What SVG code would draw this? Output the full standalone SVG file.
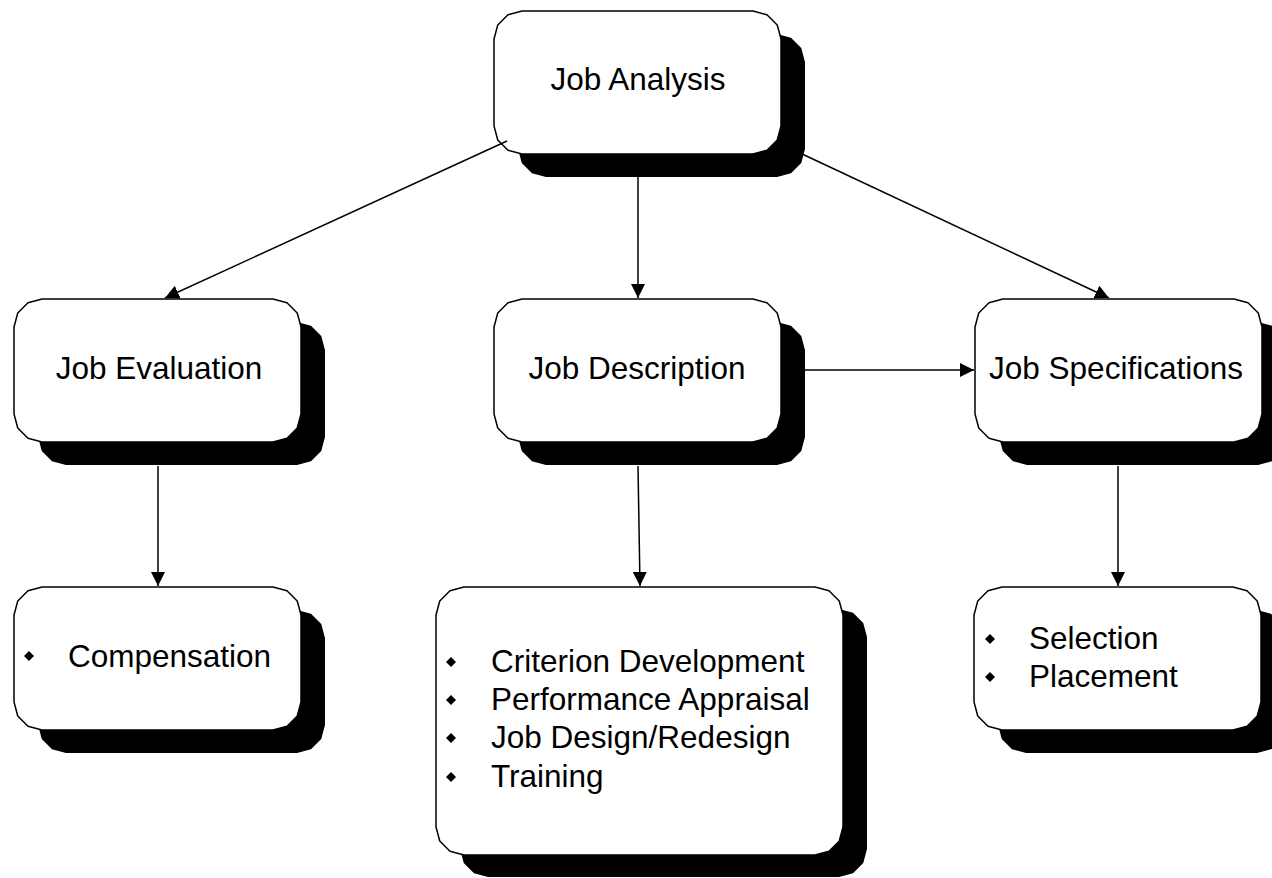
<svg xmlns="http://www.w3.org/2000/svg" xmlns:xlink="http://www.w3.org/1999/xlink" width="1272" height="878" viewBox="0 0 1272 878">
<style>
.shadow{fill:#000;stroke:none}
.box{fill:#fff;stroke:#000;stroke-width:1.5;stroke-linejoin:round}
.lbl{font-family:"Liberation Sans",Arial,sans-serif;font-size:31.5px;fill:#000}
.mid{text-anchor:middle}
.conn{stroke:#000;stroke-width:1.5;fill:none;marker-end:url(#ah)}
.bul{fill:#000}
</style>
<defs>
<path id="bx" d="M0,28 L3.75,14 L14,3.75 L28,0 L259,0 L273,3.75 L283.25,14 L287,28 L287,115 L283.25,129 L273,139.25 L259,143 L28,143 L14,139.25 L3.75,129 L0,115 Z"/>
<path id="bxl" d="M0,28 L3.75,14 L14,3.75 L28,0 L379,0 L393,3.75 L403.25,14 L407,28 L407,240 L403.25,254 L393,264.25 L379,268 L28,268 L14,264.25 L3.75,254 L0,240 Z"/>
<path id="dia" d="M0,-5 L5,0 L0,5 L-5,0 Z"/>
<marker id="ah" markerUnits="userSpaceOnUse" markerWidth="14" markerHeight="14" refX="14" refY="7" orient="auto">
<path d="M0,0 L14,7 L0,14 Z" fill="#000"/>
</marker>
</defs>
<rect width="1272" height="878" fill="#fff"/>

<g id="node-job-analysis">
<use xlink:href="#bx" href="#bx" class="shadow" transform="translate(518,34)"/>
<use xlink:href="#bx" href="#bx" class="box" transform="translate(494,11)"/>
<text class="lbl mid" x="638" y="90">Job Analysis</text>
</g>

<g id="node-job-evaluation">
<use xlink:href="#bx" href="#bx" class="shadow" transform="translate(38,322)"/>
<use xlink:href="#bx" href="#bx" class="box" transform="translate(14,299)"/>
<text class="lbl mid" x="159" y="379">Job Evaluation</text>
</g>

<g id="node-job-description">
<use xlink:href="#bx" href="#bx" class="shadow" transform="translate(518,322)"/>
<use xlink:href="#bx" href="#bx" class="box" transform="translate(494,299)"/>
<text class="lbl mid" x="637" y="379">Job Description</text>
</g>

<g id="node-job-specifications">
<use xlink:href="#bx" href="#bx" class="shadow" transform="translate(999,322)"/>
<use xlink:href="#bx" href="#bx" class="box" transform="translate(975,299)"/>
<text class="lbl mid" x="1116" y="379">Job Specifications</text>
</g>

<g id="node-compensation">
<use xlink:href="#bx" href="#bx" class="shadow" transform="translate(38,610)"/>
<use xlink:href="#bx" href="#bx" class="box" transform="translate(14,587)"/>
<use xlink:href="#dia" href="#dia" class="bul" transform="translate(29,656)"/>
<text class="lbl" x="68" y="667">Compensation</text>
</g>

<g id="node-description-uses">
<use xlink:href="#bxl" href="#bxl" class="shadow" transform="translate(460,609)"/>
<use xlink:href="#bxl" href="#bxl" class="box" transform="translate(436,587)"/>
<use xlink:href="#dia" href="#dia" class="bul" transform="translate(451,662)"/>
<use xlink:href="#dia" href="#dia" class="bul" transform="translate(451,700)"/>
<use xlink:href="#dia" href="#dia" class="bul" transform="translate(451,738)"/>
<use xlink:href="#dia" href="#dia" class="bul" transform="translate(451,777)"/>
<text class="lbl" x="491" y="672">Criterion Development</text>
<text class="lbl" x="491" y="710">Performance Appraisal</text>
<text class="lbl" x="491" y="748">Job Design/Redesign</text>
<text class="lbl" x="491" y="787">Training</text>
</g>

<g id="node-selection">
<use xlink:href="#bx" href="#bx" class="shadow" transform="translate(998,610)"/>
<use xlink:href="#bx" href="#bx" class="box" transform="translate(974,587)"/>
<use xlink:href="#dia" href="#dia" class="bul" transform="translate(990,639)"/>
<use xlink:href="#dia" href="#dia" class="bul" transform="translate(990,677)"/>
<text class="lbl" x="1029" y="649">Selection</text>
<text class="lbl" x="1029" y="687">Placement</text>
</g>

<g id="connectors">
<line class="conn" x1="507" y1="141" x2="165" y2="298"/>
<line class="conn" x1="638" y1="177" x2="638" y2="298"/>
<line class="conn" x1="800" y1="153" x2="1109" y2="298"/>
<line class="conn" x1="805" y1="370" x2="974" y2="370"/>
<line class="conn" x1="158" y1="466" x2="158" y2="586"/>
<line class="conn" x1="638" y1="466" x2="640" y2="586"/>
<line class="conn" x1="1118" y1="466" x2="1118" y2="586"/>
</g>
</svg>
